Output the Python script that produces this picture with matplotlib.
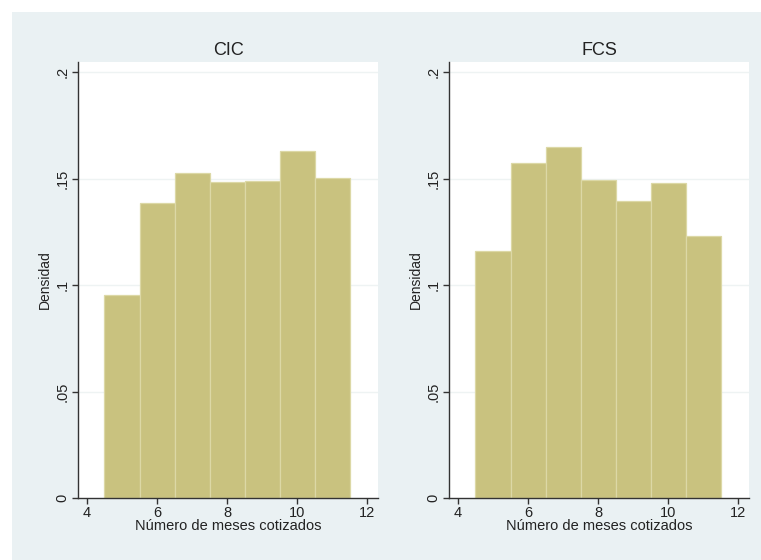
import matplotlib
matplotlib.use("Agg")
import matplotlib.pyplot as plt
from matplotlib.patches import Rectangle

plt.rcParams['font.family'] = ['Liberation Sans', 'DejaVu Sans']

bin_edges = [4.5, 5.5, 6.5, 7.5, 8.5, 9.5, 10.5, 11.5]
titles = ["CIC", "FCS"]
cic_density = [0.0953, 0.1385, 0.1526, 0.1484, 0.1486, 0.1629, 0.1502]
fcs_density = [0.1160, 0.1573, 0.1648, 0.1493, 0.1394, 0.1479, 0.1230]
series = [cic_density, fcs_density]
xticks = [4, 6, 8, 10, 12]
yticks = [0, 0.05, 0.1, 0.15, 0.2]
ytick_labels = ["0", ".05", ".1", ".15", ".2"]
xlabel = "Número de meses cotizados"
ylabel = "Densidad"

W, H = 761, 560
fig = plt.figure(figsize=(W / 100, H / 100), dpi=100)
fig.patch.set_facecolor("white")
fig.patches.append(Rectangle((12 / W, 0), 1 - 12 / W, (H - 12) / H,
                             transform=fig.transFigure, facecolor="#eaf1f3",
                             edgecolor="none", zorder=-10))

lefts = [78, 449]
for i, (left, title, vals) in enumerate(zip(lefts, titles, series)):
    ax = fig.add_axes([left / W, (H - 498) / H, 300 / W, 436 / H])
    ax.set_zorder(1)
    ax.set_facecolor("white")
    widths = [bin_edges[k + 1] - bin_edges[k] for k in range(len(vals))]
    ax.bar(bin_edges[:-1], vals, width=widths, align="edge",
           color="#c9c27f", edgecolor="#dcd8a6", linewidth=0.9, zorder=2)
    ax.set_xlim(3.745, 12.3)
    ax.set_ylim(0, 0.2047)
    ax.set_xticks(xticks)
    ax.set_yticks(yticks)
    ax.set_yticklabels(ytick_labels, rotation=90, va="center")
    for y in yticks[1:]:
        ax.axhline(y, color="#eef3f3", linewidth=1.0, zorder=1)
    for s in ["top", "right"]:
        ax.spines[s].set_visible(False)
    for s in ["left", "bottom"]:
        ax.spines[s].set_color("#333333")
        ax.spines[s].set_linewidth(1.0)
    ax.tick_params(axis="both", direction="out", length=4, width=1.0,
                   color="#333333", labelcolor="#222222", labelsize=10.5, pad=2)
    ax.set_title(title, fontsize=13, color="#222222", pad=5)
    ax.set_xlabel(xlabel, fontsize=10.5, color="#222222", labelpad=-1)
    ax.set_ylabel(ylabel, fontsize=10, color="#222222", labelpad=3)

fig.savefig("out.png", dpi=100, facecolor=fig.get_facecolor())
